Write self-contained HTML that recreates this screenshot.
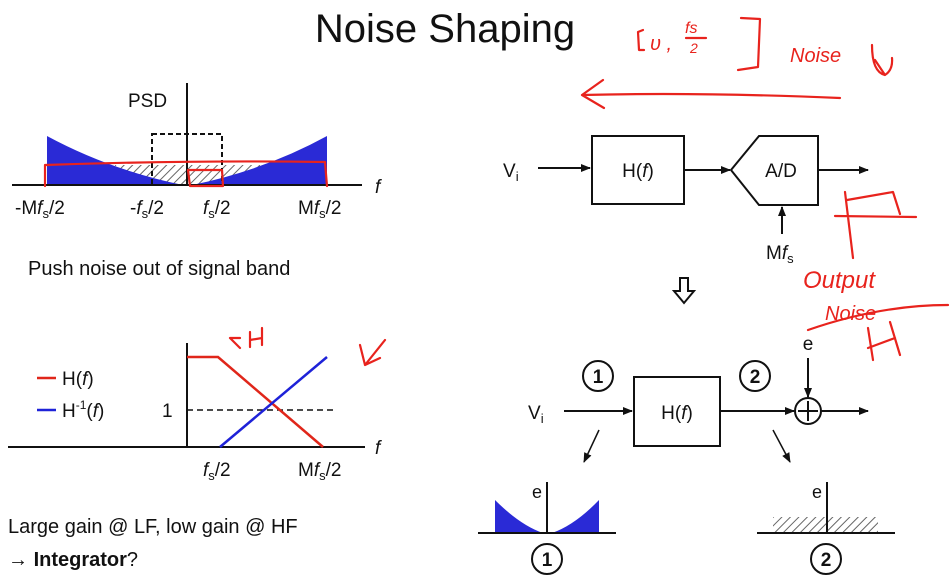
<!DOCTYPE html>
<html><head><meta charset="utf-8"><style>
html,body{margin:0;padding:0;background:#fff}
svg{display:block}
text{font-family:"Liberation Sans",sans-serif;fill:#111}
.r{fill:none;stroke:#e8231d;stroke-width:2.2;stroke-linecap:round;stroke-linejoin:round}
.hw{font-family:"Liberation Sans",sans-serif;fill:#e8231d;font-style:italic}
</style></head><body>
<svg width="950" height="581" viewBox="0 0 950 581" xmlns="http://www.w3.org/2000/svg">
<defs>
<marker id="a" markerWidth="10" markerHeight="8" refX="9" refY="4" orient="auto" markerUnits="userSpaceOnUse"><path d="M0,0 L10,4 L0,8 z" fill="#111"/></marker>
<pattern id="h" width="6" height="6" patternUnits="userSpaceOnUse" patternTransform="rotate(45)"><rect width="6" height="6" fill="#fff"/><line x1="0" y1="0" x2="0" y2="6" stroke="#666" stroke-width="2"/></pattern>
</defs>
<text x="445" y="42" font-size="40" text-anchor="middle">Noise Shaping</text>

<!-- PSD plot -->
<path d="M115,165 L260,165 L260,185 L115,185 z" fill="url(#h)"/>
<path d="M47,136 Q110,170 183,185 L47,185 z" fill="#2a2ad6"/>
<path d="M327,136 Q265,170 192,185 L327,185 z" fill="#2a2ad6"/>
<rect x="152" y="134" width="70" height="51" fill="none" stroke="#111" stroke-width="2" stroke-dasharray="5,3"/>
<line x1="12" y1="185" x2="362" y2="185" stroke="#111" stroke-width="2"/>
<line x1="187" y1="83" x2="187" y2="185" stroke="#111" stroke-width="2"/>
<text x="128" y="107" font-size="19">PSD</text>
<text x="375" y="193" font-size="19" font-style="italic">f</text>
<text x="15" y="214" font-size="19">-M<tspan font-style="italic">f</tspan><tspan font-size="13" dy="4">s</tspan><tspan dy="-4">/2</tspan></text>
<text x="130" y="214" font-size="19">-<tspan font-style="italic">f</tspan><tspan font-size="13" dy="4">s</tspan><tspan dy="-4">/2</tspan></text>
<text x="203" y="214" font-size="19"><tspan font-style="italic">f</tspan><tspan font-size="13" dy="4">s</tspan><tspan dy="-4">/2</tspan></text>
<text x="298" y="214" font-size="19">M<tspan font-style="italic">f</tspan><tspan font-size="13" dy="4">s</tspan><tspan dy="-4">/2</tspan></text>
<path class="r" d="M45,186 L45,165 Q190,160 325,162 L327,186 M50,165 L45,165"/>
<path class="r" d="M188,170 L222,170 L223,186 L190,186 z"/>
<text x="28" y="275" font-size="20">Push noise out of signal band</text>

<!-- H plot -->
<line x1="8" y1="447" x2="365" y2="447" stroke="#111" stroke-width="2"/>
<line x1="187" y1="343" x2="187" y2="447" stroke="#111" stroke-width="2"/>
<line x1="187" y1="410" x2="333" y2="410" stroke="#111" stroke-width="1.5" stroke-dasharray="6,4"/>
<path d="M187,357 L218,357 L323,447" fill="none" stroke="#e0261a" stroke-width="2.5"/>
<path d="M220,447 L327,357" fill="none" stroke="#1e22d8" stroke-width="2.5"/>
<text x="162" y="417" font-size="19">1</text>
<line x1="37" y1="378" x2="56" y2="378" stroke="#e0261a" stroke-width="2.5"/>
<text x="62" y="385" font-size="19">H(<tspan font-style="italic">f</tspan>)</text>
<line x1="37" y1="410" x2="56" y2="410" stroke="#1e22d8" stroke-width="2.5"/>
<text x="62" y="417" font-size="19">H<tspan font-size="12" dy="-8">-1</tspan><tspan dy="8">(</tspan><tspan font-style="italic">f</tspan>)</text>
<text x="375" y="454" font-size="19" font-style="italic">f</text>
<text x="203" y="476" font-size="19"><tspan font-style="italic">f</tspan><tspan font-size="13" dy="4">s</tspan><tspan dy="-4">/2</tspan></text>
<text x="298" y="476" font-size="19">M<tspan font-style="italic">f</tspan><tspan font-size="13" dy="4">s</tspan><tspan dy="-4">/2</tspan></text>
<path class="r" d="M240,348 L230,338 M230,338 L240,338 M250,332 L250,347 M262,328 L262,345 M250,340 L262,338"/>
<path class="r" d="M360,345 L365,365 L380,358 M365,365 L385,340"/>

<text x="8" y="533" font-size="20">Large gain @ LF, low gain @ HF</text>
<text x="8" y="566" font-size="20">→ <tspan font-weight="bold">Integrator</tspan>?</text>

<!-- top block diagram -->
<text x="503" y="177" font-size="19">V<tspan font-size="13" dy="4">i</tspan></text>
<line x1="538" y1="168" x2="590" y2="168" stroke="#111" stroke-width="2" marker-end="url(#a)"/>
<rect x="592" y="136" width="92" height="68" fill="none" stroke="#111" stroke-width="2"/>
<text x="638" y="177" font-size="19" text-anchor="middle">H(<tspan font-style="italic">f</tspan>)</text>
<line x1="684" y1="170" x2="730" y2="170" stroke="#111" stroke-width="2" marker-end="url(#a)"/>
<path d="M731,170 L759,136 L818,136 L818,205 L759,205 z" fill="none" stroke="#111" stroke-width="2"/>
<text x="781" y="177" font-size="19" text-anchor="middle">A/D</text>
<line x1="818" y1="170" x2="868" y2="170" stroke="#111" stroke-width="2" marker-end="url(#a)"/>
<line x1="782" y1="234" x2="782" y2="207" stroke="#111" stroke-width="2" marker-end="url(#a)"/>
<text x="766" y="259" font-size="19">M<tspan font-style="italic">f</tspan><tspan font-size="13" dy="4">s</tspan></text>
<path d="M680,278 L688,278 L688,291 L694,291 L684,303 L674,291 L680,291 z" fill="#fff" stroke="#111" stroke-width="2"/>

<!-- bottom block diagram -->
<circle cx="598" cy="376" r="15" fill="none" stroke="#111" stroke-width="2"/>
<text x="598" y="383" font-size="19" font-weight="bold" text-anchor="middle">1</text>
<circle cx="755" cy="376" r="15" fill="none" stroke="#111" stroke-width="2"/>
<text x="755" y="383" font-size="19" font-weight="bold" text-anchor="middle">2</text>
<text x="528" y="419" font-size="19">V<tspan font-size="13" dy="4">i</tspan></text>
<line x1="564" y1="411" x2="632" y2="411" stroke="#111" stroke-width="2" marker-end="url(#a)"/>
<rect x="634" y="377" width="86" height="69" fill="none" stroke="#111" stroke-width="2"/>
<text x="677" y="419" font-size="19" text-anchor="middle">H(<tspan font-style="italic">f</tspan>)</text>
<line x1="720" y1="411" x2="794" y2="411" stroke="#111" stroke-width="2" marker-end="url(#a)"/>
<circle cx="808" cy="411" r="13" fill="none" stroke="#111" stroke-width="2"/>
<line x1="808" y1="401" x2="808" y2="421" stroke="#111" stroke-width="2"/>
<line x1="798" y1="411" x2="818" y2="411" stroke="#111" stroke-width="2"/>
<line x1="821" y1="411" x2="868" y2="411" stroke="#111" stroke-width="2" marker-end="url(#a)"/>
<text x="808" y="350" font-size="19" text-anchor="middle">e</text>
<line x1="808" y1="358" x2="808" y2="397" stroke="#111" stroke-width="2" marker-end="url(#a)"/>
<line x1="599" y1="430" x2="584" y2="462" stroke="#111" stroke-width="1.5" marker-end="url(#a)"/>
<line x1="773" y1="430" x2="790" y2="462" stroke="#111" stroke-width="1.5" marker-end="url(#a)"/>

<!-- mini plot 1 -->
<path d="M495,500 Q520,525 543,533 L495,533 z" fill="#2a2ad6"/>
<path d="M599,500 Q575,525 552,533 L599,533 z" fill="#2a2ad6"/>
<line x1="478" y1="533" x2="616" y2="533" stroke="#111" stroke-width="2"/>
<line x1="547" y1="482" x2="547" y2="533" stroke="#111" stroke-width="2"/>
<text x="532" y="498" font-size="18">e</text>
<circle cx="547" cy="559" r="15" fill="none" stroke="#111" stroke-width="2"/>
<text x="547" y="566" font-size="19" font-weight="bold" text-anchor="middle">1</text>
<!-- mini plot 2 -->
<rect x="773" y="517" width="105" height="16" fill="url(#h)"/>
<line x1="757" y1="533" x2="895" y2="533" stroke="#111" stroke-width="2"/>
<line x1="827" y1="482" x2="827" y2="533" stroke="#111" stroke-width="2"/>
<text x="812" y="498" font-size="18">e</text>
<circle cx="826" cy="559" r="15" fill="none" stroke="#111" stroke-width="2"/>
<text x="826" y="566" font-size="19" font-weight="bold" text-anchor="middle">2</text>

<!-- red annotations -->
<path class="r" d="M840,98 Q700,92 582,95 M582,95 L603,80 M582,95 L604,108"/>
<path class="r" d="M643,30 L638,32 L639,50 L644,50"/>
<text x="650" y="50" class="hw" font-size="20">υ ,</text>
<text x="685" y="33" class="hw" font-size="16">fs</text>
<line x1="686" y1="38" x2="706" y2="38" class="r"/>
<text x="690" y="53" class="hw" font-size="14">2</text>
<path class="r" d="M741,18 L760,19 L758,67 L738,70"/>
<text x="790" y="62" class="hw" font-size="20">Noise</text>
<path class="r" d="M872,45 Q872,72 885,75 Q893,70 892,58 M875,60 L885,75"/>
<path class="r" d="M845,192 L853,258 M835,216 L916,217 M847,200 L893,192 L900,214"/>
<text x="803" y="288" class="hw" font-size="24">Output</text>
<text x="825" y="320" class="hw" font-size="20">Noise</text>
<path class="r" d="M808,330 Q880,305 948,305 M868,328 L873,360 M868,348 L895,338 M890,322 L900,355"/>
</svg>
</body></html>
